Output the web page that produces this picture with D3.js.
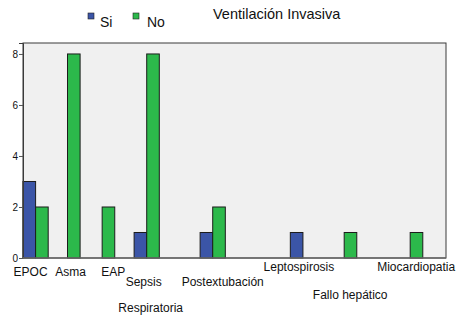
<!DOCTYPE html>
<html>
<head>
<meta charset="utf-8">
<script src="https://cdn.jsdelivr.net/npm/d3@7"></script>
<style>
  html, body { margin: 0; padding: 0; background: #ffffff; }
  svg { display: block; font-family: "Liberation Sans", Arial, sans-serif; }
</style>
</head>
<body>
<svg id="chart" width="470" height="323"></svg>
<script>
// Diagnoses (x categories) and counts per group of "Ventilación Invasiva"
const categories = ["EPOC", "Asma", "EAP", "Sepsis Respiratoria", "Postextubación",
                    "Leptospirosis", "Fallo hepático", "Miocardiopatia"];
const seriesNames = ["Si", "No"];
const siValues = [3, 0, 0, 1, 1, 1, 0, 0];
const noValues = [2, 8, 2, 8, 2, 0, 1, 1];
const yTicks = [0, 2, 4, 6, 8];
const titleText = "Ventilación Invasiva";

// Layout: where each cluster starts along the axis (in grid units of the x scale)
const clusterSlots = [0, 2.9, 6.05, 10.1, 16.1, 24.3, 28.05, 34.05];
// Label tier for each category (0 = highest line under the axis) and horizontal nudge in px
const labelTiers = [1, 1, 1, 2, 2, 0, 3, 0];
const labelNudge = [-5, 3, 11, -3, 10, -4, 6, 6];
const tierOffsets = [12.5, 18, 28, 41];
const lineGap = 26;

const colors = { Si: "#3b55a7", No: "#2cb94b" };

const svg = d3.select("#chart");
const plot = { left: 23, top: 43, right: 446, bottom: 258 };

const x = d3.scaleLinear().domain([0, 38.45]).range([plot.left, plot.right]);
const slotOf = d3.scaleOrdinal().domain(categories).range(clusterSlots);
const barUnits = 1.145;

const y = d3.scaleLinear().domain([0, 8.43]).range([plot.bottom, plot.top]);

// plot background
svg.append("rect")
  .attr("x", plot.left).attr("y", plot.top)
  .attr("width", plot.right - plot.left).attr("height", plot.bottom - plot.top)
  .attr("fill", "#f0f0f0")
  .attr("stroke", "#3a3a3a").attr("stroke-width", 1);

// bars
const rows = categories.map((c, i) => ({ cat: c, Si: siValues[i], No: noValues[i] }));
seriesNames.forEach((s, si) => {
  svg.append("g").selectAll("rect")
    .data(rows.filter(d => d[s] > 0))
    .join("rect")
    .attr("x", d => x(slotOf(d.cat) + si * barUnits))
    .attr("width", d => x(slotOf(d.cat) + (si + 1) * barUnits) - x(slotOf(d.cat) + si * barUnits))
    .attr("y", d => y(d[s]))
    .attr("height", d => y(0) - y(d[s]))
    .attr("fill", colors[s])
    .attr("stroke", "#1c1c1c").attr("stroke-width", 1);
});

// y axis
const yAxis = d3.axisLeft(y).tickValues(yTicks).tickSize(4).tickPadding(1).tickFormat(d3.format("d"));
const gy = svg.append("g").attr("transform", `translate(${plot.left},0)`).call(yAxis);
gy.select(".domain").attr("stroke", "#3a3a3a");
gy.selectAll(".tick line").attr("stroke", "#555");
gy.selectAll(".tick text")
  .attr("font-size", 10).attr("fill", "#111")
  .attr("font-family", "Liberation Sans, Arial, sans-serif");

// bottom axis line
svg.append("line")
  .attr("x1", plot.left).attr("x2", plot.right)
  .attr("y1", plot.bottom).attr("y2", plot.bottom)
  .attr("stroke", "#6a6a6a").attr("stroke-width", 1.5);

// category labels, staggered over several lines
const labels = svg.append("g").attr("font-size", 12).attr("fill", "#111").attr("text-anchor", "middle");
categories.forEach((c, i) => {
  const cx = x(slotOf(c) + barUnits) + labelNudge[i];
  const words = c === "Sepsis Respiratoria" ? c.split(" ") : [c];
  const t = labels.append("text")
    .attr("x", cx)
    .attr("y", plot.bottom + tierOffsets[labelTiers[i]]);
  words.forEach((w, k) => {
    t.append("tspan").attr("x", cx + k * 7).attr("dy", k === 0 ? 0 : lineGap).text(w);
  });
});

// legend
const legend = svg.append("g").attr("font-size", 14).attr("fill", "#111");
seriesNames.forEach((s, i) => {
  const lx = 88 + i * 45;
  legend.append("rect").attr("x", lx).attr("y", 13).attr("width", 6).attr("height", 6)
    .attr("fill", colors[s]).attr("stroke", "#222").attr("stroke-width", 0.6);
  legend.append("text").attr("x", lx + 12 + i * 2).attr("y", 27).text(s);
});

// title
svg.append("text")
  .attr("x", 213).attr("y", 19)
  .attr("font-size", 14.5).attr("fill", "#111")
  .text(titleText);
</script>
</body>
</html>
